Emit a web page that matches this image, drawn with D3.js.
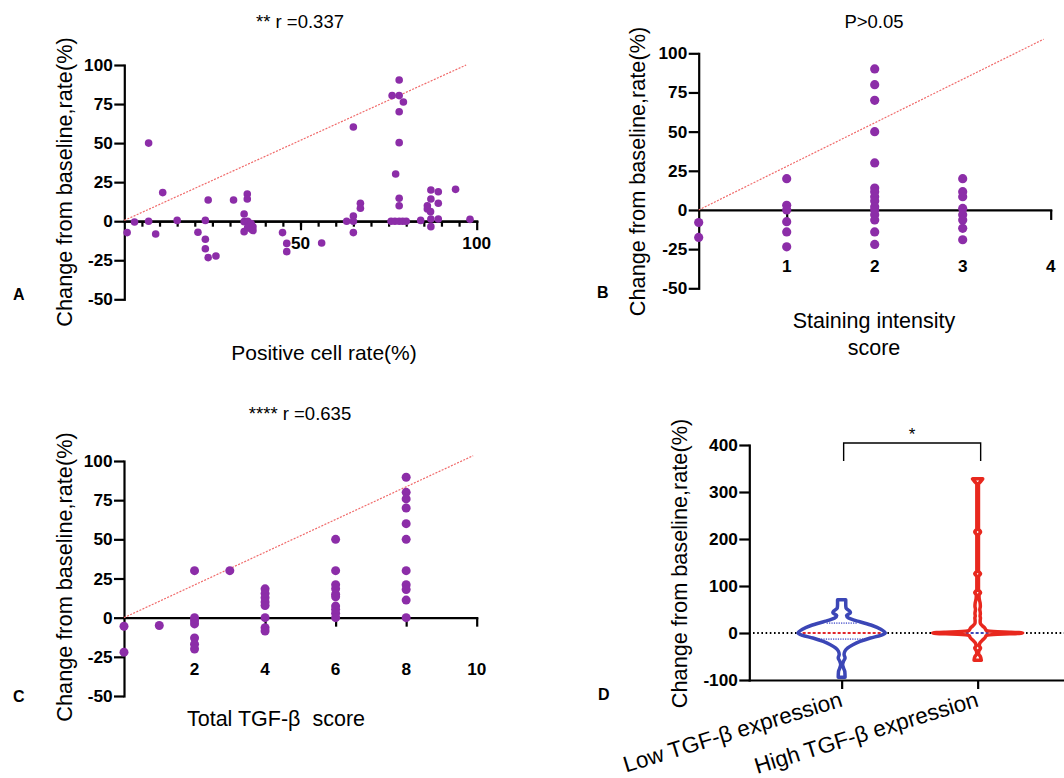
<!DOCTYPE html>
<html>
<head>
<meta charset="utf-8">
<script src="https://cdn.jsdelivr.net/npm/d3@7"></script>
<style>
  html, body { margin: 0; padding: 0; background: #fff; }
  svg { display: block; font-family: "Liberation Sans", Arial, Helvetica, sans-serif; }
</style>
</head>
<body>
<svg id="fig" width="1064" height="778"></svg>
<script>
// ---- Panel A: positive cell rate (%) vs change from baseline (%) ----
const positiveRate = [
  [0.8,-7.3],[2.9,-0.5],[6.9,50],[6.9,0],[8.9,-8.2],[10.9,18.3],[15,0.5],[20.9,-7.1],
  [23,0.5],[23,-11.6],[23,-17.6],[23.8,13.6],[23.8,-23.3],[26,-22.3],[31,13.6],
  [34.9,17.4],[34.9,14.2],[34,4.6],[34,-0.3],[34,-6.7],[35,0],[35.5,-2.5],[36,-5],
  [36.5,-6],[35,-4],[36,-1.5],[36.5,-3.5],[44.9,-7.3],[46.1,-14.2],[46.1,-19.5],
  [56,-14],[63.1,0],[65,3.3],[65,0],[65,-7.3],[65,60.3],[67,11.5],[67,8.3],
  [76,80.4],[78,90.4],[78,80.4],[79.2,76.3],[78,70.1],[78,50.3],[77,30.2],[78,14.7],
  [78,9.9],[75.7,0],[76.8,0],[78,0],[79,0],[80,0],[84.1,0.5],[86,9.9],[86,7.8],
  [86.9,6.1],[87,20],[87,14.2],[87,1.4],[87,-3.5],[89.1,18.9],[89.1,11.5],[89.1,1.4],
  [94,20.4],[98.1,1.2]
];
const fitA = [[0,0.5],[97,100]];

// ---- Panel B: staining intensity score ----
const stainingScore = [
  [0,-8],[0,-17.5],
  [1,20],[1,3],[1,0],[1,-7.5],[1,-14],[1,-23.5],
  [2,90],[2,80],[2,70],[2,50],[2,30],[2,14],[2,11.7],[2,8.5],[2,5.7],[2,2],[2,0],
  [2,-3],[2,-6.4],[2,-14],[2,-22],
  [3,20],[3,11.7],[3,8.5],[3,1],[3,-3],[3,-6.4],[3,-11.7],[3,-19]
];
const fitB = [[0,0],[3.92,109]];

// ---- Panel C: total TGF-β score ----
const totalScore = [
  [0,-5.5],[0,-22],[1,-5],
  [2,30],[2,0],[2,-2],[2,-4],[2,-13],[2,-17],[2,-20],
  [3,30],
  [4,18.4],[4,15.5],[4,12.7],[4,10],[4,7.8],[4,0],[4,-6.4],[4,-8.5],
  [6,50],[6,30],[6,21],[6,18.4],[6,15],[6,13.3],[6,7.4],[6,5.3],[6,2.8],[6,0],
  [8,89.6],[8,80],[8,75.8],[8,70],[8,60],[8,50],[8,30],[8,21],[8,18],[8,11.2],[8,0]
];
const fitC = [[0,0],[9.9,103.4]];

// shared y ticks for A–C
const changeTicks = [-50,-25,0,25,50,75,100];
const rateMinorTicks = d3.range(5, 100, 5);
const rateMajorTicks = [50,100];
const stainingTicks = [1,2,3,4];
const totalTicks = [2,4,6,8,10];

// ---- Panel D: violin profiles, [change %, relative density 0-100] ----
const groups = ["Low TGF-β expression", "High TGF-β expression"];
const lowProfile = [
  [71,9.1],[60,9.1],[53,9.8],[47,17.4],[43,19.6],[37,10.9],[32,15.2],[28,26],[24,40],
  [16,68],[8,87],[0,97],[-5,87],[-10.7,64],[-18,41],[-25,25],[-32,13],[-39,7],
  [-46,5.4],[-53,7.6],[-60,4.3],[-67,2.2],[-75,4.3],[-82,7],[-94,7.6]
];
const highProfile = [
  [328,11.3],[322,6.5],[316,1.8],[222,1.8],[215,6.5],[208,1.8],[132,1.8],[126,6.5],
  [120,1.8],[92,1.8],[86,6.5],[80,3],[70,4],[64,5.5],[57,6],[50,4.8],[42,6],
  [36,5.3],[32,6.2],[26,5.6],[21,5.8],[15,11],[10.6,16],[5.7,19],[4,27],[2.8,44],
  [1.8,71],[0,100],[-1.8,71],[-2.8,44],[-4,27],[-5.7,19],[-10.6,16],[-15,11],
  [-21,5.2],[-27,3.5],[-32,6.5],[-38,2.8],[-44,2],[-50,6],[-58,8]
];
const lowQuartiles = [21, 0, -13];
const highMedian = [0];
const violinTicks = [-100,0,100,200,300,400];

const svg = d3.select("#fig");
const PURPLE = "#8c2da8";
const FIT = "#f06a6a";
const AXIS_W = 2.2;
const plain = d => String(d);   // hyphen-minus, as printed on the axes

function styleAxis(sel) {
  sel.selectAll(".domain").attr("stroke", "#000").attr("stroke-width", AXIS_W).attr("stroke-linecap", "square");
  sel.selectAll(".tick line").attr("stroke", "#000").attr("stroke-width", AXIS_W);
  sel.selectAll(".tick text")
    .attr("fill", "#000").attr("font-size", 17.2).attr("font-weight", "bold")
    .attr("font-family", "\"Liberation Sans\", Arial, sans-serif");
}

function scatterPanel(o) {
  const g = svg.append("g");
  const x = d3.scaleLinear().domain(o.xDomain).range(o.xRange);
  const y = d3.scaleLinear().domain([-50, 100]).range(o.yRange);

  // y axis
  g.append("g")
    .attr("transform", `translate(${x(0)},0)`)
    .call(d3.axisLeft(y).tickValues(changeTicks).tickSize(10).tickSizeOuter(0).tickPadding(1.5).tickFormat(plain))
    .call(styleAxis);

  // x axis along zero line, ticks drawn downward
  o.xTicks.forEach(t => {
    g.append("g")
      .attr("transform", `translate(0,${y(0)})`)
      .call(d3.axisBottom(x).tickValues(t.values).tickSize(t.size).tickSizeOuter(0).tickFormat(""))
      .call(styleAxis);
  });

  // tick labels sit well below the zero line
  g.append("g").selectAll("text").data(o.xLabels).join("text")
    .attr("x", d => x(d)).attr("y", y(0) + o.labelDrop)
    .attr("text-anchor", "middle").attr("font-size", 17.2).attr("font-weight", "bold")
    .text(plain);

  // fitted line
  g.append("line")
    .attr("x1", x(o.fit[0][0])).attr("y1", y(o.fit[0][1]))
    .attr("x2", x(o.fit[1][0])).attr("y2", y(o.fit[1][1]))
    .attr("stroke", FIT).attr("stroke-width", 1.2).attr("stroke-dasharray", "2,1.4");

  // points
  g.append("g").selectAll("circle").data(o.data).join("circle")
    .attr("cx", d => x(d[0])).attr("cy", d => y(d[1])).attr("r", o.r)
    .attr("fill", PURPLE);

  return g;
}

function text(x, y, s, size, opts = {}) {
  const t = svg.append("text").attr("x", x).attr("y", y)
    .attr("font-size", size).attr("text-anchor", opts.anchor || "middle")
    .attr("fill", "#000").text(s);
  if (opts.bold) t.attr("font-weight", "bold");
  if (opts.rotate !== undefined) t.attr("transform", `rotate(${opts.rotate},${x},${y})`);
  return t;
}

// Panel A
scatterPanel({
  data: positiveRate, fit: fitA, r: 3.8,
  xDomain: [0, 100], xRange: [124.3, 476.7], yRange: [299.3, 65],
  xTicks: [{ values: rateMinorTicks, size: 5.5 }, { values: rateMajorTicks, size: 9 }],
  xLabels: rateMajorTicks, labelDrop: 28
});
text(300, 28, "** r =0.337", 18.5);
text(72, 182, "Change from baseline,rate(%)", 21.7, { rotate: -90 });
text(324, 360, "Positive cell rate(%)", 21);
text(13, 300, "A", 16, { anchor: "start", bold: true });

// Panel B
scatterPanel({
  data: stainingScore, fit: fitB, r: 4.6,
  xDomain: [0, 4], xRange: [698.7, 1050.7], yRange: [288.3, 53.3],
  xTicks: [{ values: stainingTicks, size: 10 }],
  xLabels: stainingTicks, labelDrop: 62
});
text(874, 28, "P>0.05", 18.5);
text(645, 171.5, "Change from baseline,rate(%)", 21.7, { rotate: -90 });
text(874, 328, "Staining intensity", 21.5);
text(874, 355, "score", 21.5);
text(597, 298, "B", 16, { anchor: "start", bold: true });

// Panel C
scatterPanel({
  data: totalScore, fit: fitC, r: 4.5,
  xDomain: [0, 10], xRange: [124, 476.7], yRange: [696, 461],
  xTicks: [{ values: totalTicks, size: 9 }],
  xLabels: totalTicks, labelDrop: 57
});
text(300, 420, "**** r =0.635", 18.5);
text(72, 577, "Change from baseline,rate(%)", 21.7, { rotate: -90 });
text(276, 726, "Total TGF-β  score", 21.5).attr("xml:space", "preserve").style("white-space", "pre");
text(13, 702, "C", 16, { anchor: "start", bold: true });

// Panel D: violins
(function () {
  const g = svg.append("g");
  const x = d3.scalePoint().domain(groups).range([749.3, 1070]).padding(0.679);
  const y = d3.scaleLinear().domain([-100, 400]).range([680, 445]);
  const w = d3.scaleLinear().domain([0, 100]).range([0, 45]);

  // zero reference
  g.append("line")
    .attr("x1", 753).attr("x2", 1064).attr("y1", y(0)).attr("y2", y(0))
    .attr("stroke", "#000").attr("stroke-width", 2).attr("stroke-dasharray", "1.6,2.6");

  g.append("g")
    .attr("transform", "translate(749.3,0)")
    .call(d3.axisLeft(y).tickValues(violinTicks).tickSize(10).tickSizeOuter(0).tickPadding(1.5).tickFormat(plain))
    .call(styleAxis);
  g.append("g")
    .attr("transform", `translate(0,${y(-100)})`)
    .call(d3.axisBottom(x).tickSize(9).tickSizeOuter(0).tickFormat(""))
    .call(styleAxis);

  const violins = [
    { key: groups[0], profile: lowProfile, color: "#3b46b6", stroke: 3.5,
      lines: [
        { v: lowQuartiles[0], half: 15, color: "#6e76d6", dash: "1.2,1.2", width: 1.6 },
        { v: lowQuartiles[1], half: 39, color: "#e0262a", dash: "3,2", width: 2.2 },
        { v: lowQuartiles[2], half: 23, color: "#6e76d6", dash: "1.2,1.2", width: 1.6 }
      ] },
    { key: groups[1], profile: highProfile, color: "#e8281e", stroke: 3.5,
      lines: [{ v: highMedian[0], half: 12, color: "#3b46b6", dash: "3,2", width: 2 }] }
  ];

  violins.forEach(vn => {
    const cx = x(vn.key);
    const area = d3.area().curve(d3.curveMonotoneY)
      .y(d => y(d[0])).x0(d => cx - w(d[1])).x1(d => cx + w(d[1]));
    g.append("path").attr("d", area(vn.profile)).attr("fill", "#fff");
    vn.lines.forEach(l => {
      g.append("line")
        .attr("x1", cx - l.half).attr("x2", cx + l.half)
        .attr("y1", y(l.v)).attr("y2", y(l.v))
        .attr("stroke", l.color).attr("stroke-width", l.width).attr("stroke-dasharray", l.dash);
    });
    g.append("path").attr("d", area(vn.profile))
      .attr("fill", "none").attr("stroke", vn.color).attr("stroke-width", vn.stroke)
      .attr("stroke-linejoin", "round");
  });

  // significance bracket
  const bx1 = x(groups[0]) + 2, bx2 = x(groups[1]) + 3;
  g.append("path")
    .attr("d", `M${bx1},${y(-100) - 219} V${y(-100) - 237} H${bx2} V${y(-100) - 219}`)
    .attr("fill", "none").attr("stroke", "#000").attr("stroke-width", 1.4);
  text((bx1 + bx2) / 2, 440, "*", 17);

  // category labels
  groups.forEach(gname => {
    const cx = x(gname);
    text(cx + 2, 706, gname, 22.5, { anchor: "end", rotate: -17 });
  });

  text(687, 563.5, "Change from baseline,rate(%)", 21.7, { rotate: -90 });
  text(598, 700, "D", 16, { anchor: "start", bold: true });
})();
</script>
</body>
</html>
